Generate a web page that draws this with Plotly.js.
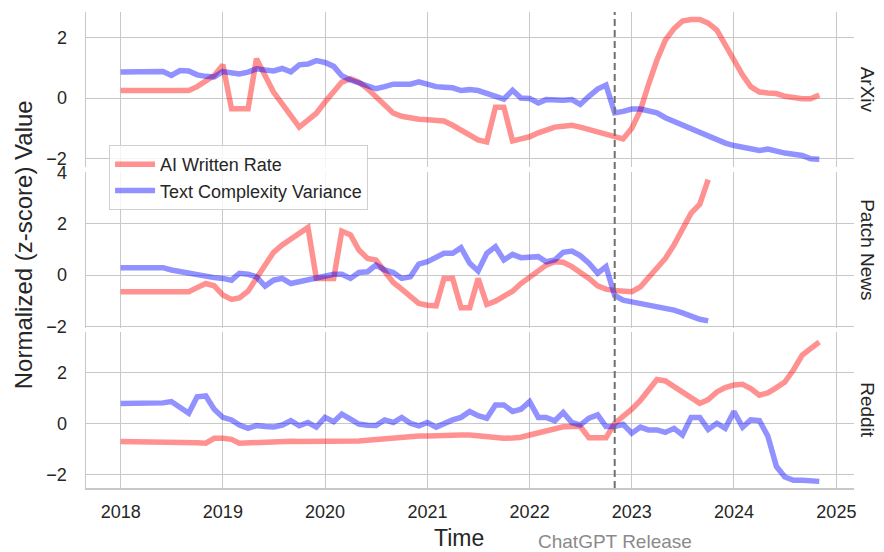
<!DOCTYPE html>
<html>
<head>
<meta charset="utf-8">
<script src="https://cdn.plot.ly/plotly-3.0.1.min.js"></script>
<style>
  html, body { margin: 0; padding: 0; background: #ffffff; }
  #chart { width: 884px; height: 552px; }
</style>
</head>
<body>
<div id="chart"></div>
<script>
// ---------------- data (monthly, starting Jan 2018) ----------------
const startYear = 2018;
const panels = ["ArXiv", "Patch News", "Reddit"];
const seriesNames = ["AI Written Rate", "Text Complexity Variance"];
const releaseDate = "2022-11-01";
const releaseLabel = "ChatGPT Release";

const arxivAI = [
  0.25, 0.25, 0.25, 0.25, 0.25, 0.25, 0.25, 0.25, 0.25, 0.38, 0.55, 0.75,
  1.10, -0.35, -0.35, -0.35, 1.30, 0.69, 0.20, -0.19, -0.56, -0.96, -0.73, -0.50,
  -0.13, 0.25, 0.53, 0.64, 0.53, 0.31, 0.03, -0.25, -0.50, -0.60, -0.66, -0.70,
  -0.72, -0.75, -0.76, -0.90, -1.06, -1.23, -1.38, -1.45, -0.30, -0.30, -1.42, -1.35,
  -1.28, -1.15, -1.05, -0.96, -0.93, -0.90, -0.96, -1.04, -1.15, -1.24, -1.32, -1.35,
  -1.00, -0.40, 0.43, 1.26, 1.92, 2.30, 2.55, 2.60, 2.60, 2.48, 2.25, 1.76,
  1.26, 0.76, 0.38, 0.20, 0.17, 0.15, 0.06, 0.00, -0.02, -0.02, 0.10
];
const arxivTCV = [
  0.86, 0.86, 0.86, 0.86, 0.87, 0.88, 0.75, 0.91, 0.90, 0.77, 0.72, 0.70,
  0.88, 0.86, 0.80, 0.86, 0.97, 0.93, 0.90, 0.98, 0.87, 1.10, 1.13, 1.24,
  1.18, 1.05, 0.74, 0.60, 0.49, 0.38, 0.31, 0.38, 0.46, 0.46, 0.46, 0.54,
  0.46, 0.38, 0.36, 0.34, 0.25, 0.28, 0.25, 0.15, 0.04, -0.03, 0.26, 0.00,
  -0.01, -0.16, -0.05, -0.07, -0.07, -0.05, -0.21, 0.06, 0.30, 0.43, -0.49, -0.44,
  -0.36, -0.36, -0.40, -0.49, -0.65, -0.77, -0.91, -1.05, -1.16, -1.27, -1.36, -1.49,
  -1.57, -1.62, -1.68, -1.73, -1.69, -1.77, -1.82, -1.86, -1.90, -2.01, -2.02
];
const patchAI = [
  -0.65, -0.65, -0.65, -0.65, -0.65, -0.65, -0.65, -0.65, -0.65, -0.49, -0.33, -0.42,
  -0.78, -0.95, -0.89, -0.63, -0.13, 0.39, 0.89, 1.18, 1.41, 1.63, 1.86, -0.13,
  -0.13, -0.13, 1.72, 1.57, 0.98, 0.65, 0.59, 0.13, -0.29, -0.55, -0.85, -1.11,
  -1.18, -1.20, -0.13, -0.13, -1.28, -1.28, -0.13, -1.15, -1.02, -0.85, -0.63, -0.33,
  -0.07, 0.20, 0.39, 0.52, 0.50, 0.33, 0.13, -0.13, -0.42, -0.55, -0.60, -0.63,
  -0.65, -0.46, -0.13, 0.26, 0.65, 1.18, 1.76, 2.42, 2.77, 3.73
];
const patchTCV = [
  0.29, 0.29, 0.29, 0.29, 0.29, 0.29, 0.20, 0.13, 0.07, 0.00, -0.07, -0.10,
  -0.13, -0.20, 0.07, 0.03, -0.07, -0.43, -0.20, -0.13, -0.33, -0.26, -0.16, -0.07,
  -0.03, 0.03, 0.03, -0.13, 0.10, 0.13, 0.39, 0.20, 0.10, -0.13, -0.07, 0.43,
  0.52, 0.68, 0.85, 0.85, 1.07, 0.46, 0.16, 0.85, 1.11, 0.59, 0.81, 0.68,
  0.68, 0.72, 0.52, 0.59, 0.89, 0.94, 0.76, 0.46, 0.07, 0.33, -0.80, -0.98,
  -1.05, -1.11, -1.18, -1.20, -1.28, -1.37, -1.48, -1.63, -1.73, -1.79
];
const redditAI = [
  -0.72, -0.72, -0.72, -0.72, -0.72, -0.72, -0.72, -0.72, -0.72, -0.76, -0.78, -0.59,
  -0.59, -0.63, -0.78, -0.76, -0.74, -0.73, -0.72, -0.72, -0.71, -0.72, -0.72, -0.73,
  -0.73, -0.73, -0.73, -0.72, -0.70, -0.67, -0.64, -0.60, -0.56, -0.52, -0.51, -0.50,
  -0.50, -0.48, -0.47, -0.46, -0.46, -0.46, -0.50, -0.55, -0.58, -0.59, -0.58, -0.55,
  -0.46, -0.38, -0.32, -0.26, -0.14, -0.13, -0.13, -0.57, -0.59, -0.57, 0.00, 0.26,
  0.55, 0.90, 1.30, 1.72, 1.66, 1.45, 1.23, 1.00, 0.78, 0.93, 1.23, 1.40,
  1.50, 1.53, 1.36, 1.10, 1.19, 1.40, 1.62, 2.10, 2.67, 2.93, 3.19
];
const redditTCV = [
  0.78, 0.78, 0.78, 0.78, 0.78, 0.80, 0.85, 0.62, 0.39, 1.04, 1.07, 0.55,
  0.23, 0.13, -0.07, -0.20, -0.09, -0.13, -0.15, -0.07, 0.10, -0.10, 0.03, -0.15,
  0.23, 0.06, 0.36, 0.16, -0.03, -0.08, -0.09, 0.13, 0.03, 0.23, 0.00, -0.10,
  0.03, -0.15, 0.00, 0.13, 0.23, 0.46, 0.30, 0.20, 0.72, 0.72, 0.46, 0.55,
  0.85, 0.23, 0.23, 0.10, 0.42, 0.03, -0.07, 0.20, 0.33, -0.13, -0.13, -0.04,
  -0.39, -0.15, -0.26, -0.26, -0.36, -0.20, -0.46, 0.23, 0.23, -0.24, 0.00, -0.20,
  0.46, -0.15, 0.13, 0.10, -0.50, -1.70, -2.11, -2.24, -2.24, -2.25, -2.28
];

// ---------------- helpers ----------------
function monthDates(n) {
  const out = [];
  for (let i = 0; i < n; i++) {
    const y = startYear + Math.floor(i / 12);
    const m = (i % 12) + 1;
    out.push(y + "-" + String(m).padStart(2, "0") + "-01");
  }
  return out;
}

const redCol = "rgba(255,0,0,0.43)";
const blueCol = "rgba(0,0,255,0.43)";
const lineW = 5.5;
const gridCol = "#c8c8c8";
const textCol = "#262626";
const FONT = "Liberation Sans, Arial, Helvetica, sans-serif";

const panelData = [
  [arxivAI, arxivTCV],
  [patchAI, patchTCV],
  [redditAI, redditTCV]
];

const traces = [];
panelData.forEach((pair, p) => {
  const axSuffix = p === 0 ? "" : String(p + 1);
  pair.forEach((vals, s) => {
    traces.push({
      type: "scatter",
      mode: "lines",
      x: monthDates(vals.length),
      y: vals,
      name: seriesNames[s],
      legendgroup: seriesNames[s],
      showlegend: p === 0,
      xaxis: "x" + axSuffix,
      yaxis: "y" + axSuffix,
      line: { color: s === 0 ? redCol : blueCol, width: lineW },
      hoverinfo: "skip"
    });
  });
});

// panel domains (paper fractions) and ranges
const domains = [[0.6744, 1.0], [0.3361, 0.6639], [0.0, 0.3277]];
const yRanges = [[-2.28, 2.85], [-2.07, 4.03], [-2.54, 3.58]];
const xRange = ["2017-08-30", "2025-03-05"];

function xAxis(p) {
  return {
    type: "date",
    range: xRange,
    domain: [0, 1],
    anchor: p === 0 ? "y" : "y" + (p + 1),
    matches: p === 0 ? undefined : "x",
    tick0: "2018-01-01",
    dtick: "M12",
    tickformat: "%Y",
    showticklabels: p === 2,
    ticks: "",
    ticklabelstandoff: 7,
    showgrid: true,
    gridcolor: gridCol,
    gridwidth: 1,
    zeroline: false,
    showline: p === 2,
    linecolor: gridCol,
    linewidth: 1.5,
    tickfont: { family: FONT, size: 18, color: textCol }
  };
}
function yAxis(p) {
  return {
    domain: domains[p],
    range: yRanges[p],
    anchor: p === 0 ? "x" : "x" + (p + 1),
    tick0: 0,
    dtick: 2,
    ticks: "",
    ticklabelstandoff: 14,
    showgrid: true,
    gridcolor: gridCol,
    gridwidth: 1,
    zeroline: false,
    showline: true,
    linecolor: gridCol,
    linewidth: 1.5,
    tickformat: "d",
    tickfont: { family: FONT, size: 18, color: textCol }
  };
}

const annotations = [];
panels.forEach((name, p) => {
  annotations.push({
    text: name,
    xref: "paper", yref: "paper",
    x: 1.018, y: (domains[p][0] + domains[p][1]) / 2,
    xanchor: "center", yanchor: "middle",
    textangle: 90,
    showarrow: false,
    font: { family: FONT, size: 19, color: textCol }
  });
});
annotations.push({
  text: "Normalized (z-score) Value",
  xref: "paper", yref: "paper",
  x: -0.082, y: 0.51,
  xanchor: "center", yanchor: "middle",
  textangle: -90,
  showarrow: false,
  font: { family: FONT, size: 24, color: textCol }
});
annotations.push({
  text: "Time",
  xref: "paper", yref: "paper",
  x: 0.4857, y: -0.105,
  xanchor: "center", yanchor: "middle",
  showarrow: false,
  font: { family: FONT, size: 23, color: textCol }
});
annotations.push({
  text: releaseLabel,
  xref: "x3", yref: "paper",
  x: releaseDate, y: -0.112,
  xanchor: "center", yanchor: "middle",
  showarrow: false,
  font: { family: FONT, size: 19, color: "#8a8a8a" }
});

const layout = {
  width: 884,
  height: 552,
  margin: { l: 86, r: 30, t: 12, b: 64 },
  paper_bgcolor: "#ffffff",
  plot_bgcolor: "rgba(0,0,0,0)",
  font: { family: FONT, color: textCol },
  showlegend: true,
  legend: {
    x: 0.030, y: 0.7206,
    xanchor: "left", yanchor: "top",
    bgcolor: "rgba(255,255,255,0.8)",
    bordercolor: "#d0d0d0",
    borderwidth: 1,
    font: { family: FONT, size: 18, color: textCol },
    tracegroupgap: 0,
    itemwidth: 40
  },
  xaxis: xAxis(0), xaxis2: xAxis(1), xaxis3: xAxis(2),
  yaxis: yAxis(0), yaxis2: yAxis(1), yaxis3: yAxis(2),
  shapes: [{
    type: "line",
    xref: "x", yref: "paper",
    x0: releaseDate, x1: releaseDate,
    y0: 0, y1: 1,
    line: { color: "#707070", width: 2, dash: "7px,4px" }
  }],
  annotations: annotations
};

Plotly.newPlot("chart", traces, layout, { staticPlot: true, displayModeBar: false });
</script>
</body>
</html>
